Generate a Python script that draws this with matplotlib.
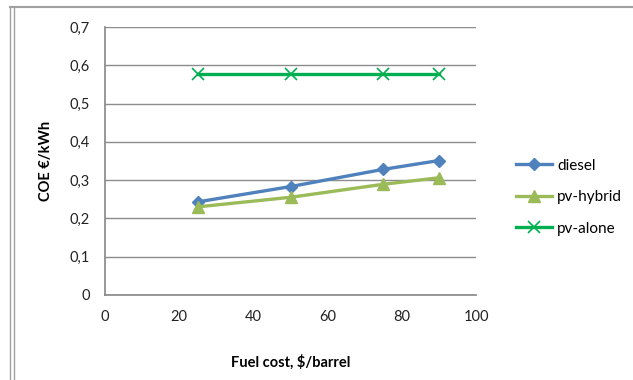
import matplotlib.pyplot as plt
from matplotlib.lines import Line2D
from matplotlib.ticker import FuncFormatter

plt.rcParams["font.family"] = ["Lato", "DejaVu Sans"]

fuel_cost = [25, 50, 75, 90]
diesel = [0.243, 0.283, 0.328, 0.351]
pv_hybrid = [0.230, 0.255, 0.289, 0.306]
pv_alone = [0.577, 0.577, 0.577, 0.577]

fig = plt.figure(figsize=(6.33, 3.8), dpi=100)
ax = fig.add_axes([0.166, 0.224, 0.586, 0.705])

ax.plot(fuel_cost, diesel, color="#4F81BD", lw=2.4, marker="D", ms=6.5,
        label="diesel")
ax.plot(fuel_cost, pv_hybrid, color="#9BBB59", lw=2.4, marker="^", ms=8,
        label="pv-hybrid")
ax.plot(fuel_cost, pv_alone, color="#00B050", lw=2.4, marker="x", ms=8,
        mew=1.2, label="pv-alone")

ax.set_xlim(0, 100)
ax.set_ylim(0, 0.7)
ax.set_xticks(range(0, 101, 20))
ax.set_yticks([i / 10 for i in range(8)])
ax.yaxis.set_major_formatter(FuncFormatter(
    lambda v, p: "0" if v == 0 else f"{v:.1f}".replace(".", ",")))

ax.grid(axis="y", color="#8C8C8C", lw=1)
ax.set_axisbelow(True)
for s in ["top", "right"]:
    ax.spines[s].set_visible(False)
for s in ["left", "bottom"]:
    ax.spines[s].set_color("#868686")
    ax.spines[s].set_linewidth(1.2)
ax.tick_params(length=0, labelsize=10.5, colors="#222222")
ax.tick_params(axis="y", pad=11)
ax.tick_params(axis="x", pad=11)

ax.set_xlabel("Fuel cost, $/barrel", fontsize=10.5, fontweight="bold", labelpad=22)
ax.set_ylabel("COE \u20ac/kWh", fontsize=10.5, fontweight="bold", labelpad=12)

ax.legend(loc="center left", bbox_to_anchor=(1.07, 0.365), frameon=False,
          fontsize=11, handlelength=2.4, labelspacing=1.15, handletextpad=0.3)

# outer frame lines
fig.add_artist(Line2D([10 / 633, 632 / 633], [1 - 7 / 380, 1 - 7 / 380],
                      color="#A0A0A0", lw=1.5))
for x in (10, 14):
    fig.add_artist(Line2D([x / 633, x / 633], [0, 1 - 7 / 380],
                          color="#A0A0A0", lw=1))

fig.savefig("out.png", dpi=100)
